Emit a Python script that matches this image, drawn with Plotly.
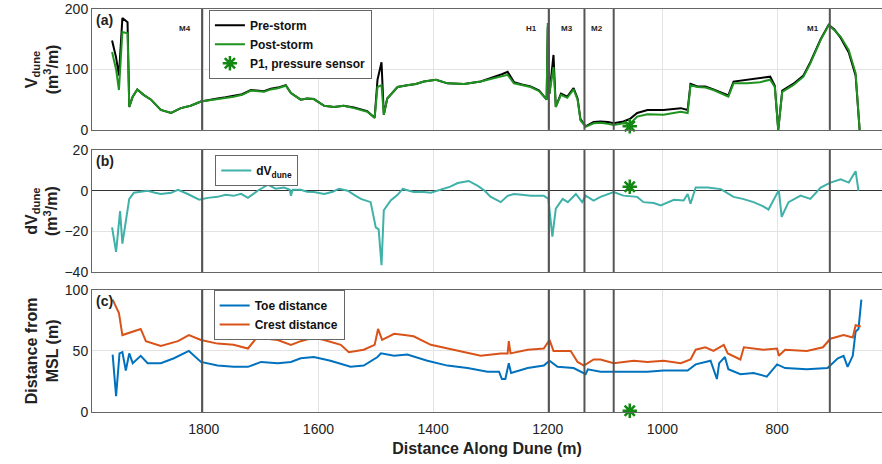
import plotly.graph_objects as go
from plotly.subplots import make_subplots

# ---------------- data ----------------
xa = [1960,1953,1948,1942,1933,1930,1924,1916,1905,1892,1875,1857,1840,1823,1805,1790,1776,1762,1748,1733,
      1718,1705,1695,1683,1671,1657,1648,1631,1620,1608,1590,1573,1556,1538,1515,1502,1497,1490,1486,1480,
      1462,1445,1430,1416,1395,1375,1346,1317,1293,1280,1270,1259,1245,1230,1215,1207,1202,1200,1197,1190,
      1186,1177,1166,1155,1148,1143,1134,1120,1108,1095,1085,1068,1057,1044,1026,998,968,956,951,939,
      925,911,885,876,852,830,812,804,798,791,772,754,742,724,710,700,689,675,663,656]
v_post = [129,100,66,162,160,38,55,67,58,50,33,28,36,40,47,49,51,53,55,58,
          65,64,63,67,69,73,61,50,52,51,40,38,40,36,30,20,71,74,25,52,
          71,74,76,80,83,77,76,80,86,88,91,77,74,71,64,55,50,177,60,104,
          38,58,53,67,50,16,5,11,12,10,8,11,10,22,26,25,30,28,74,71,
          70,66,55,77,77,79,83,71,0,63,74,88,110,149,173,165,154,132,94,0]
v_pre = [148,120,90,185,178,38,55,67,58,50,33,28,36,40,47,49,52,54,56,59,
         66,65,64,68,70,74,61,50,52,51,40,38,40,37,31,20,83,112,25,52,
         71,74,76,80,83,77,76,80,87,92,96,79,75,72,65,56,50,170,60,124,
         38,60,55,69,52,18,6,13,14,13,11,14,18,28,33,33,36,33,76,72,
         72,67,57,80,83,86,88,73,0,65,76,90,112,150,174,166,152,128,90,0]

xb = [1960,1953,1946,1942,1930,1922,1910,1898,1885,1875,1857,1845,1828,1808,1793,1776,1762,1748,1735,1723,
      1706,1688,1675,1660,1650,1648,1645,1631,1620,1608,1590,1575,1564,1549,1535,1526,1509,1500,1495,1490,
      1486,1474,1462,1453,1434,1420,1404,1382,1370,1357,1338,1322,1310,1300,1282,1270,1259,1245,1230,1207,
      1199,1192,1186,1174,1165,1151,1140,1134,1120,1108,1085,1068,1044,1033,1015,1003,980,963,956,951,
      942,921,898,876,860,841,825,815,803,797,792,780,759,742,724,707,689,675,663,658]
dv = [-18,-30,-10,-26,-4,-1,-0.5,0,-1,-1.6,-1,0.5,-1.6,-4.4,-3.5,-3,-2,-2.5,-1.5,-3.5,
      0,3,1,1.6,0.5,-2.5,0.5,0.5,-0.5,-0.6,-1.6,-0.5,1,0,-2.5,-4,-5.6,-18,-19,-36.6,
      -9.6,-4.8,-2,0.9,-0.6,-0.5,-1,1,2,3.8,4.8,2.4,0,-2.9,-5.6,-2.5,-1.6,-2,-2.4,-2.4,
      -4,-22.5,-8.8,-4,-5.6,-1.6,-5.6,-2.4,-4.8,-3,-0.6,-2.4,-3,-5.6,-6,-7.2,-4.4,-4.8,-1.6,-6.4,
      1.6,1.6,0.8,-3,-4,-5.6,-7.5,-9.2,-3,0.3,-12.8,-5.6,-2.4,-4,1.6,4,5.6,4,9.6,0]

xc_crest = [1959,1948,1942,1922,1910,1901,1875,1845,1826,1805,1776,1748,1723,1704,1690,1671,1648,1631,1608,1590,
            1561,1547,1521,1502,1496,1489,1468,1450,1434,1404,1375,1340,1317,1282,1270,1268,1265,1235,1207,1197,
            1190,1160,1148,1137,1120,1108,1085,1050,1026,998,968,951,942,925,911,893,886,864,858,824,
            800,797,786,748,720,707,684,668,663,654]
crest = [92,81,63,66,68,58,54,58,63,59,56,55,52,63,60,59,55,58,61,59,
         55,49,51,55,68,59,64,63,62,55,52,49,46,48,48,58,48,51,52,59,
         50,50,41,38,43,43,40,42,41,42,40,43,51,53,50,55,48,43,53,51,
         52,46,51,50,53,60,63,61,71,70]

xc_toe = [1959,1953,1947,1942,1936,1930,1924,1910,1898,1875,1852,1826,1805,1776,1748,1723,1700,1671,1648,1631,
          1608,1579,1544,1521,1497,1491,1468,1445,1410,1375,1340,1305,1285,1280,1274,1268,1264,1235,1207,1197,
          1183,1155,1134,1130,1108,1085,1026,998,956,942,916,905,901,891,885,864,841,818,800,786,
          748,712,694,684,677,668,663,658,653]
toe = [47,13,48,49,34,48,40,46,40,40,44,50,41,38,37,37,41,40,41,44,
       45,42,37,38,45,48,46,47,42,38,36,33,33,27,27,40,32,36,38,42,
       37,36,31,35,33,33,33,34,34,39,42,27,40,45,35,31,32,29,39,36,
       35,36,44,46,37,46,66,68,92]

p1_x = [1057]
p1_a = [6]
p1_b = [2]
p1_c = [1]

marker_names = ["M4", "H1", "M3", "M2", "M1"]
marker_x = [1803, 1198, 1136, 1085, 708]

# ---------------- figure ----------------
FONT = "Liberation Sans, Arial, sans-serif"
GREEN = "#1f931f"
fig = make_subplots(rows=3, cols=1, shared_xaxes=True)

fig.add_trace(go.Scatter(x=xa, y=v_pre, mode="lines", name="<b>Pre-storm</b>",
                         line=dict(color="black", width=2), legend="legend"), 1, 1)
fig.add_trace(go.Scatter(x=xa, y=v_post, mode="lines", name="<b>Post-storm</b>",
                         line=dict(color=GREEN, width=2), legend="legend"), 1, 1)
star = dict(symbol="asterisk-open", size=12, color="#118811", line=dict(color="#118811", width=2.5))
fig.add_trace(go.Scatter(x=p1_x, y=p1_a, mode="markers", name="<b>P1, pressure sensor</b>",
                         marker=star, legend="legend", cliponaxis=False), 1, 1)

fig.add_trace(go.Scatter(x=xb, y=dv, mode="lines", name="<b>dV<sub>dune</sub></b>",
                         line=dict(color="#3fb1a8", width=2), legend="legend2"), 2, 1)
fig.add_trace(go.Scatter(x=p1_x, y=p1_b, mode="markers", showlegend=False, marker=star), 2, 1)

fig.add_trace(go.Scatter(x=xc_toe, y=toe, mode="lines", name="<b>Toe distance</b>",
                         line=dict(color="#0072BD", width=2), legend="legend3"), 3, 1)
fig.add_trace(go.Scatter(x=xc_crest, y=crest, mode="lines", name="<b>Crest distance</b>",
                         line=dict(color="#D95319", width=2), legend="legend3"), 3, 1)
fig.add_trace(go.Scatter(x=p1_x, y=p1_c, mode="markers", showlegend=False, marker=star,
                         cliponaxis=False), 3, 1)

axis_common = dict(showline=True, linecolor="#666", linewidth=1, mirror=True,
                   showgrid=True, gridcolor="#e3e3e3", automargin=False,
                   tickfont=dict(family=FONT, size=14, color="#222"))
for i in (1, 2, 3):
    fig.update_xaxes(range=[1995, 617], tickvals=[1800, 1600, 1400, 1200, 1000, 800],
                     ticks="outside", ticklen=4, tickcolor="rgba(0,0,0,0)",
                     row=i, col=1, **axis_common)
fig.update_xaxes(title=dict(text="<b>Distance Along Dune (m)</b>", font=dict(family=FONT, size=16, color="#222"),
                            standoff=7), row=3, col=1)

ytitle_font = dict(family=FONT, size=16, color="#222")
fig.update_yaxes(range=[0, 200], tickvals=[0, 100, 200], domain=[0.70, 1.0], zeroline=False, ticks="",
                 title=dict(text="<b>V<sub>dune</sub><br>(m<sup>3</sup>/m)</b>", font=ytitle_font, standoff=2),
                 row=1, col=1, **axis_common)
fig.update_yaxes(range=[-40, 20], tickvals=[-40, -20, 0, 20], domain=[0.347, 0.65], ticks="",
                 zeroline=True, zerolinecolor="#333", zerolinewidth=1,
                 title=dict(text="<b>dV<sub>dune</sub><br>(m<sup>3</sup>/m)</b>", font=ytitle_font, standoff=2),
                 row=2, col=1, **axis_common)
fig.update_yaxes(range=[0, 100], tickvals=[0, 50, 100], domain=[0.0, 0.303], zeroline=False, ticks="",
                 title=dict(text="<b>Distance from<br>MSL (m)</b>", font=ytitle_font, standoff=2),
                 row=3, col=1, **axis_common)

# vertical marker lines
shapes = []
for xr, yd in (("x", "y domain"), ("x2", "y2 domain"), ("x3", "y3 domain")):
    for mx in marker_x:
        shapes.append(dict(type="line", xref=xr, yref=yd, x0=mx, x1=mx, y0=0, y1=1,
                           line=dict(color="#555", width=2)))
fig.update_layout(shapes=shapes)

annotations = []
for nm, mx in zip(marker_names, marker_x):
    annotations.append(dict(text="<b>%s</b>" % nm, x=mx + 30, y=0.89, xref="x", yref="y domain",
                            showarrow=False, font=dict(family=FONT, size=8, color="#222")))
for lab, xr, yr in (("(a)", "x domain", "y domain"), ("(b)", "x2 domain", "y2 domain"),
                    ("(c)", "x3 domain", "y3 domain")):
    annotations.append(dict(text="<b>%s</b>" % lab, x=0.003, y=0.99, xref=xr, yref=yr,
                            xanchor="left", yanchor="top", showarrow=False,
                            font=dict(family=FONT, size=14, color="#222")))
fig.update_layout(annotations=annotations)

leg_common = dict(bgcolor="white", bordercolor="#666", borderwidth=1,
                  font=dict(family=FONT, size=12, color="#111"),
                  xanchor="left", yanchor="top", tracegroupgap=0, itemwidth=30)
fig.update_layout(
    legend=dict(x=0.148, y=0.998, **leg_common),
    legend2=dict(x=0.156, y=0.638, **leg_common),
    legend3=dict(x=0.154, y=0.303, **leg_common),
)

fig.update_layout(width=882, height=464, margin=dict(l=92, r=0, t=9, b=52, autoexpand=False),
                  plot_bgcolor="white", paper_bgcolor="white",
                  font=dict(family=FONT, color="#222"))

fig.write_html("out.html", config={"displayModeBar": False},
               post_script="document.body.style.margin='0px';")
